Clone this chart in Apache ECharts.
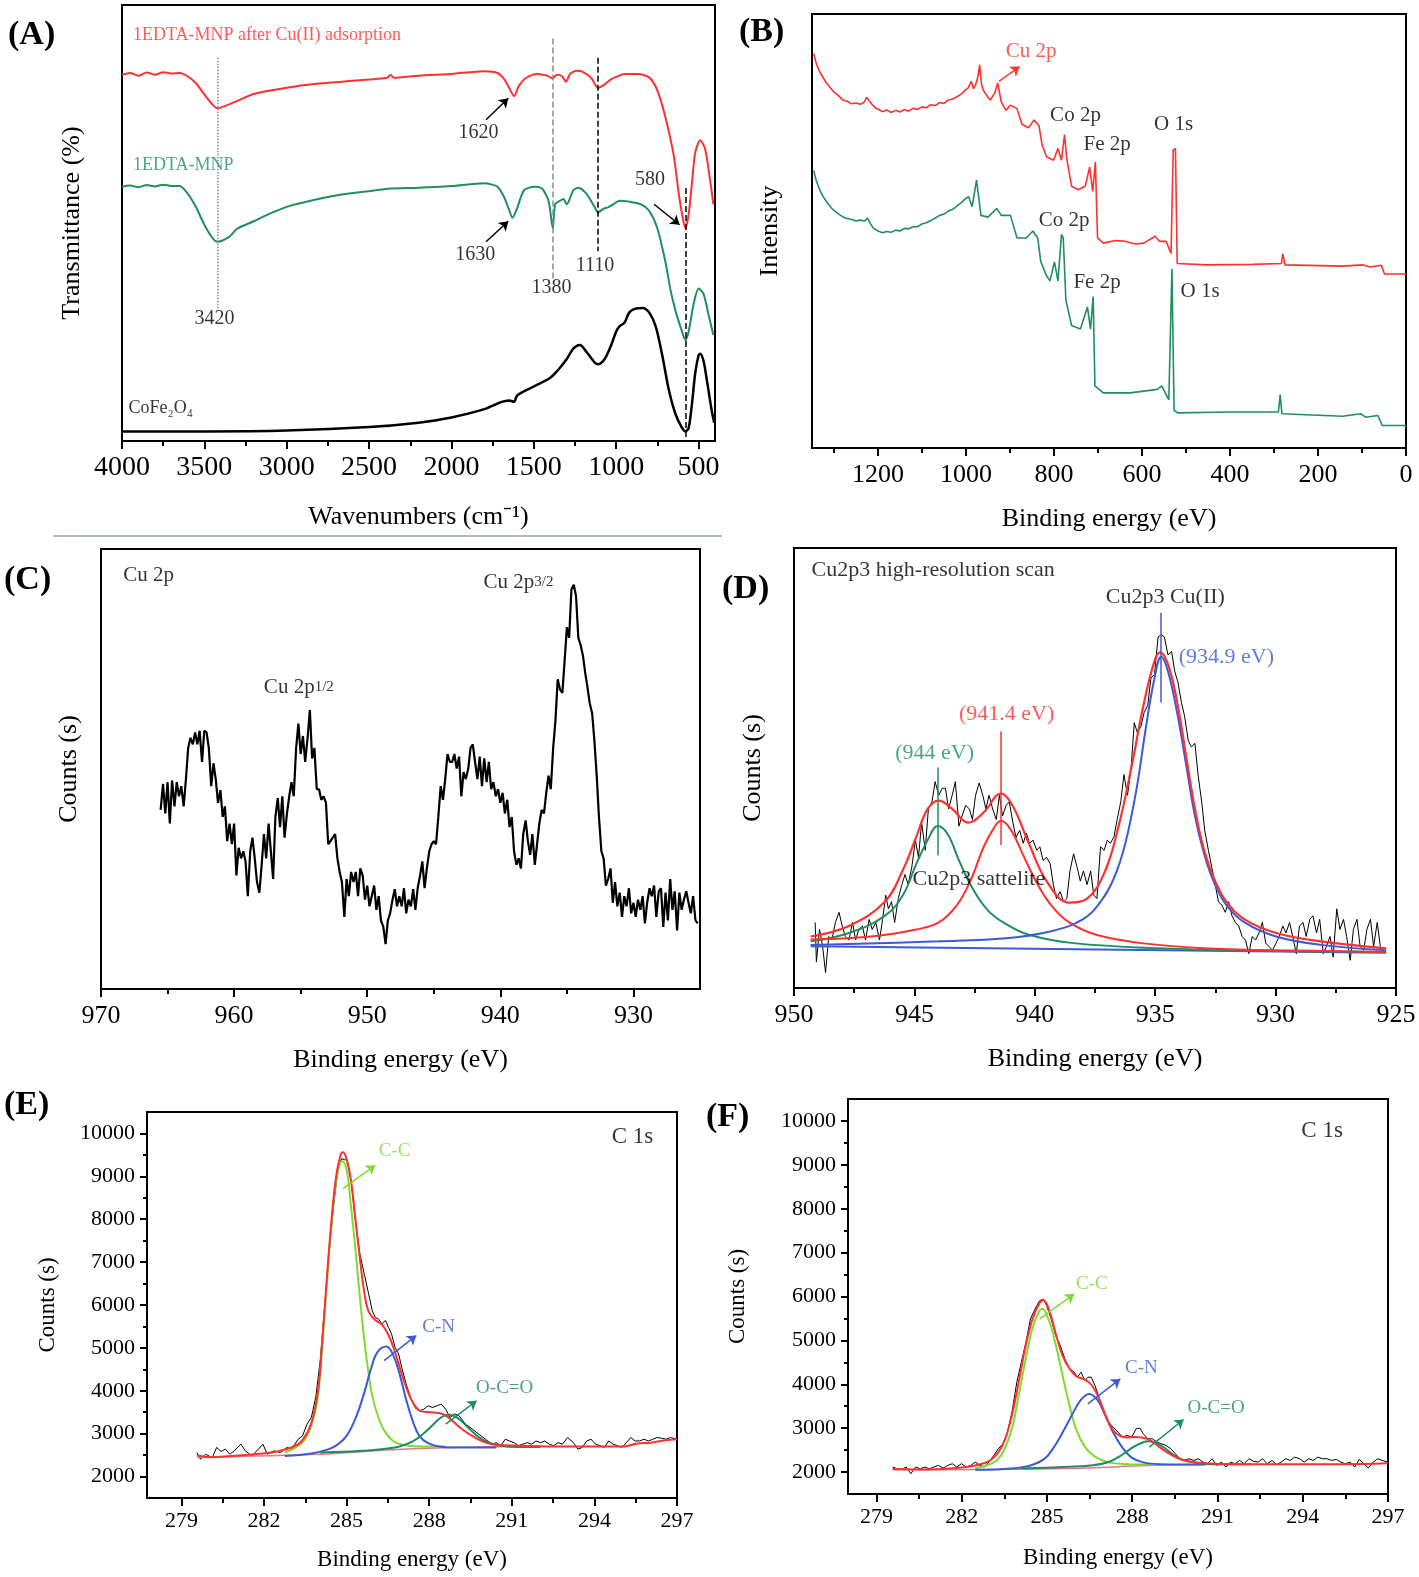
<!DOCTYPE html>
<html><head><meta charset="utf-8">
<script src="https://cdn.jsdelivr.net/npm/echarts@6/dist/echarts.min.js"></script>
<style>html,body{margin:0;padding:0;background:#fff}#c{width:1419px;height:1577px}</style>
</head><body><div id="c"></div>
<script>
const FONT = '"Liberation Serif","Times New Roman",serif';

// ---------- (A) FTIR ----------
const ftirRed = [[4000,84.0],[3950,84.4],[3900,83.8],[3850,84.5],[3800,84.0],[3750,84.6],[3700,84.3],[3650,84.4],[3600,83.6],[3550,82.0],[3480,78.5],[3420,76.3],[3350,77.2],[3300,78.0],[3200,79.6],[3000,81.0],[2900,81.6],[2700,82.3],[2500,82.9],[2390,83.3],[2370,84.0],[2350,83.3],[2200,83.8],[2000,84.2],[1800,84.8],[1720,84.4],[1680,83.0],[1650,81.0],[1620,79.1],[1590,81.5],[1550,83.2],[1480,84.2],[1420,83.8],[1385,83.2],[1360,84.0],[1330,83.7],[1305,82.4],[1280,84.2],[1240,84.9],[1200,84.6],[1150,83.2],[1110,81.0],[1070,81.8],[1030,83.0],[1000,83.5],[950,84.2],[870,84.2],[800,83.4],[750,80.4],[700,74.1],[650,65.4],[620,56.7],[595,51.0],[580,48.8],[560,52.0],[540,59.1],[520,66.2],[490,69.0],[460,67.0],[430,59.9],[410,54.3]];
const ftirGreen = [[4000,58.3],[3950,58.6],[3900,58.2],[3850,58.7],[3800,58.4],[3750,58.8],[3700,58.5],[3650,58.5],[3600,56.7],[3550,53.6],[3500,49.6],[3450,46.5],[3420,45.7],[3350,46.8],[3300,48.7],[3200,50.4],[3100,52.2],[3000,53.7],[2900,54.7],[2700,56.3],[2500,57.3],[2370,57.9],[2200,58.1],[2000,58.5],[1800,59.1],[1720,58.3],[1680,55.9],[1650,53.0],[1630,51.2],[1600,53.5],[1560,57.5],[1500,58.3],[1450,57.9],[1410,55.0],[1385,48.8],[1370,54.3],[1340,55.1],[1320,55.5],[1300,54.3],[1260,57.5],[1230,58.1],[1180,56.7],[1130,53.6],[1110,52.4],[1080,53.2],[1050,53.6],[1020,54.2],[980,55.1],[920,54.9],[850,54.3],[800,52.8],[750,48.8],[700,40.9],[670,34.6],[640,29.9],[600,25.1],[580,23.1],[560,25.1],[530,31.4],[500,35.0],[470,33.8],[440,29.1],[410,24.3]];
const ftirBlack = [[4000,2.2],[3500,2.2],[3000,2.4],[2500,3.2],[2200,4.2],[2000,5.4],[1800,7.3],[1700,8.9],[1650,9.3],[1620,9.0],[1600,10.5],[1500,12.5],[1400,14.5],[1350,16.4],[1300,18.8],[1260,21.2],[1220,22.0],[1180,20.4],[1130,18.0],[1110,17.6],[1070,18.8],[1030,22.0],[1000,25.1],[980,26.3],[950,27.1],[920,29.5],[880,30.4],[840,30.5],[800,29.5],[760,26.3],[720,19.6],[680,11.7],[640,6.2],[600,3.0],[580,2.2],[560,3.0],[540,8.5],[520,15.6],[500,19.6],[490,20.0],[470,18.4],[450,14.1],[420,7.0],[405,4.2]];

// ---------- (B) XPS survey ----------
const surveyRed = [[1346,90.9],[1340,88.5],[1333,86.8],[1326,85.6],[1318,84.2],[1310,83.2],[1300,82.0],[1290,81.2],[1280,80.2],[1270,79.9],[1260,79.3],[1250,79.5],[1240,79.2],[1232,79.6],[1226,80.8],[1220,80.0],[1212,79.0],[1205,78.3],[1198,78.0],[1190,77.5],[1180,77.9],[1170,77.3],[1160,77.8],[1150,77.4],[1140,78.0],[1130,77.6],[1120,78.3],[1110,78.0],[1100,78.6],[1090,78.4],[1080,79.1],[1070,78.9],[1060,79.6],[1050,79.4],[1040,80.2],[1030,80.4],[1020,81.0],[1010,81.6],[1002,82.4],[995,83.0],[988,84.5],[983,82.8],[978,83.8],[973,85.5],[969,88.3],[965,84.0],[961,82.5],[953,81.2],[945,80.2],[935,81.7],[928,84.1],[920,79.8],[909,77.8],[899,79.0],[884,78.2],[873,74.6],[858,73.8],[845,75.6],[834,74.2],[827,69.8],[817,67.1],[801,66.3],[791,69.0],[783,66.3],[776,72.2],[771,66.7],[760,60.3],[745,59.5],[729,60.3],[719,64.7],[712,59.1],[706,65.9],[701,48.4],[688,47.2],[660,47.8],[637,47.6],[615,47.0],[596,47.2],[570,48.8],[560,47.6],[545,47.6],[534,44.8],[529,68.7],[524,69.0],[520,42.5],[452,42.2],[349,42.3],[283,42.5],[280,44.8],[275,42.2],[144,41.9],[98,42.2],[82,41.7],[56,42.1],[49,40.1],[0,40.1]];
const surveyGreen = [[1346,63.9],[1340,61.5],[1333,59.6],[1325,58.0],[1316,56.6],[1306,55.3],[1296,54.4],[1285,53.6],[1275,53.0],[1262,52.7],[1250,52.3],[1240,52.5],[1230,52.3],[1224,53.0],[1218,51.8],[1210,50.6],[1200,50.0],[1190,49.6],[1180,49.9],[1170,49.7],[1160,50.2],[1150,50.0],[1140,50.6],[1130,50.5],[1120,51.0],[1110,51.0],[1100,51.6],[1090,51.9],[1080,52.4],[1070,53.0],[1060,53.6],[1050,53.9],[1040,54.6],[1030,55.0],[1020,55.8],[1010,56.6],[1002,57.4],[994,57.9],[986,55.6],[976,61.7],[966,53.6],[950,53.2],[930,55.2],[920,53.6],[899,53.6],[884,48.4],[863,48.4],[848,50.0],[837,48.4],[830,42.9],[817,39.7],[809,38.5],[799,42.9],[791,38.5],[783,49.2],[779,48.4],[773,34.1],[760,28.2],[740,27.4],[724,32.5],[717,27.4],[711,34.9],[707,14.3],[688,12.7],[627,12.7],[565,13.5],[555,14.3],[539,11.1],[532,41.3],[527,8.7],[519,8.1],[401,8.3],[290,8.3],[286,12.3],[282,7.9],[144,7.3],[103,7.9],[92,7.1],[64,7.5],[54,5.2],[0,5.2]];

// ---------- (C) Cu 2p ----------
const cuBE = [965.52,965.34,965.17,965.00,964.83,964.66,964.48,964.31,964.14,963.97,963.79,963.62,963.45,963.28,963.10,962.93,962.76,962.59,962.41,962.24,962.07,961.90,961.72,961.55,961.38,961.21,961.03,960.86,960.69,
960.52,960.34,960.17,960.00,959.83,959.66,959.48,959.31,959.14,958.97,958.79,958.62,958.45,958.28,958.10,957.93,957.76,957.59,957.41,957.24,957.07,956.90,956.72,956.55,956.38,956.21,956.03,955.86,955.69,
955.52,955.34,955.17,955.00,954.83,954.66,954.48,954.31,954.14,953.97,953.79,953.62,953.45,953.28,953.10,952.93,952.76,952.59,952.41,952.24,952.07,951.90,951.72,951.55,951.38,951.21,951.03,950.86,950.69,
950.52,950.34,950.17,950.00,949.83,949.66,949.48,949.31,949.14,948.97,948.79,948.62,948.45,948.28,948.10,947.93,947.76,947.59,947.41,947.24,947.07,946.90,946.72,946.55,946.38,946.21,946.03,945.86,945.69,
945.52,945.34,945.17,945.00,944.83,944.66,944.48,944.31,944.14,943.97,943.79,943.62,943.45,943.28,943.10,942.93,942.76,942.59,942.41,942.24,942.07,941.90,941.72,941.55,941.38,941.21,941.03,940.86,940.69,
940.52,940.34,940.17,940.00,939.83,939.66,939.48,939.31,939.14,938.97,938.79,938.62,938.45,938.28,938.10,937.93,937.76,937.59,937.41,937.24,937.07,936.90,936.72,936.55,936.38,936.21,936.03,935.86,935.69,
935.52,935.34,935.17,935.00,934.83,934.66,934.48,934.31,934.14,933.97,933.79,933.62,933.45,933.28,933.10,932.93,932.76,932.59,932.41,932.24,932.07,931.90,931.72,931.55,931.38,931.21,931.03,930.86,930.69,
930.52,930.34,930.17,930.00,929.83,929.66,929.48,929.31,929.14,928.97,928.79,928.62,928.45,928.28,928.10,927.93,927.76,927.59,927.41,927.24,927.07,926.90,926.72,926.55,926.38,926.21,926.03,925.86,925.69,
925.52,925.34,925.17];
const cuCounts = [40.7,46.6,39.9,47.0,37.6,47.4,41.5,47.0,43.8,46.1,41.5,47.7,54.8,57.1,55.6,58.3,55.6,58.7,51.6,58.7,58.3,54.8,46.1,51.3,47.7,42.3,45.2,39.1,41.5,
33.6,37.6,32.9,37.6,25.8,32.1,29.7,31.3,29.0,21.1,31.3,34.4,29.7,24.3,21.9,28.2,35.2,29.7,37.6,31.3,25.0,39.1,43.4,36.8,43.8,34.4,39.9,43.8,47.0,
43.8,54.8,60.3,53.4,57.5,51.6,57.1,63.4,52.4,54.8,45.4,45.4,43.0,43.8,42.3,32.9,33.6,34.4,35.2,29.7,26.6,24.3,16.4,25.0,21.1,26.6,24.3,26.6,21.1,
27.4,25.8,20.3,23.5,18.8,21.1,23.5,18.0,21.1,15.6,14.1,10.2,15.6,17.2,20.3,22.7,18.8,21.1,18.8,22.9,17.2,20.3,18.8,22.7,18.0,22.9,25.8,29.0,22.9,
27.4,31.3,32.9,33.6,32.9,39.1,46.1,43.0,47.7,53.4,51.6,51.6,53.4,50.1,52.8,43.8,49.3,47.7,50.1,54.8,55.6,51.6,47.7,52.8,46.1,52.4,47.0,51.6,45.4,
47.0,43.8,45.4,42.3,44.6,39.9,43.0,36.8,39.1,31.3,28.2,29.7,27.4,35.2,38.3,33.6,30.5,35.2,28.2,32.9,37.6,40.7,39.9,44.6,48.5,45.4,54.8,61.0,70.4,
68.1,67.3,74.6,82.2,79.8,90.8,91.9,89.2,79.8,78.2,75.7,71.8,68.5,64.9,62.6,56.3,48.5,39.1,31.3,29.7,23.5,25.0,27.4,19.6,24.3,18.8,21.9,16.4,21.1,
18.8,22.9,17.2,19.6,16.4,20.3,18.0,21.1,14.9,19.6,22.9,21.1,23.5,16.4,22.2,22.9,14.1,21.9,15.6,25.0,18.0,22.2,13.3,21.9,18.0,20.3,22.2,19.6,17.2,
21.1,15.6,14.9];

// ---------- (D) Cu2p3 high resolution ----------
const hrBE = [949.12,949.07,948.94,948.81,948.69,948.56,948.43,948.28,948.13,948.00,947.87,947.72,947.57,947.44,947.31,947.16,947.03,946.88,946.75,946.60,946.45,946.32,946.19,946.08,945.95,945.82,945.67,945.52,945.39,945.26,945.11,944.96,944.83,944.70,944.55,944.42,944.27,944.14,943.99,943.84,943.71,943.58,943.43,943.30,943.15,943.02,942.87,942.72,942.59,942.46,942.31,942.16,942.03,941.90,941.75,941.60,941.47,941.34,941.19,941.06,940.91,940.78,940.63,940.48,940.35,940.22,940.07,939.92,939.79,939.66,939.51,939.36,939.23,939.10,938.95,938.80,938.67,938.54,938.39,938.24,938.11,937.98,937.83,937.68,937.55,937.42,937.27,937.12,936.99,936.86,936.71,936.58,936.43,936.30,936.15,936.00,935.87,935.74,935.59,935.46,935.31,935.18,935.03,934.88,934.75,934.62,934.47,934.32,934.19,934.06,933.91,933.78,933.63,933.50,933.35,933.22,933.07,932.94,932.79,932.65,932.51,932.37,932.23,932.09,931.95,931.81,931.67,931.53,931.39,931.25,931.11,930.97,930.83,930.69,930.55,930.41,930.27,930.13,929.98,929.85,929.70,929.57,929.42,929.29,929.14,929.01,928.86,928.73,928.58,928.45,928.30,928.17,928.02,927.89,927.74,927.61,927.46,927.33,927.18,927.05,926.90,926.77,926.62,926.49,926.34,926.21,926.06,925.93,925.78,925.65];
const hrCounts = [14.9,5.9,13.3,9.4,3.5,11.7,10.9,14.9,17.2,14.1,11.7,10.9,14.9,10.9,13.3,14.1,10.9,15.6,13.3,14.9,10.9,15.6,21.1,18.0,19.6,14.9,20.3,23.5,25.8,23.5,27.4,33.6,29.7,37.6,31.3,40.7,42.3,46.9,43.8,45.4,45.4,40.7,43.8,46.9,36.8,39.1,41.5,40.7,38.3,43.8,46.6,43.8,40.7,43.8,40.7,38.3,43.8,39.1,41.5,42.3,37.6,34.2,35.8,32.9,35.2,32.9,33.6,31.3,32.1,29.0,29.7,28.2,23.5,20.3,21.9,19.6,20.3,26.6,30.5,27.4,24.3,26.6,23.5,26.6,21.1,20.3,32.1,31.3,33.6,32.9,34.4,38.3,42.3,48.5,43.8,50.1,60.3,58.0,59.5,62.6,64.2,70.4,71.2,79.8,80.3,79.8,75.7,76.5,72.0,69.6,64.9,61.8,56.3,54.8,55.6,48.5,42.3,35.7,31.3,27.4,23.5,19.6,18.8,17.2,19.6,16.4,14.9,14.1,11.7,10.9,7.8,11.7,10.9,12.5,14.9,10.2,9.4,8.6,10.2,11.7,14.1,12.5,14.9,11.7,7.8,14.1,14.9,11.7,15.6,16.4,12.5,15.6,7.8,9.4,11.7,7.0,18.0,13.3,15.6,11.7,6.3,13.3,15.6,9.4,8.6,13.3,15.6,9.4,14.9,9.4];
const hrFit944 = [[949.31,10.6],[947.72,12.5],[946.23,16.4],[945.48,21.1],[944.92,28.2],[944.45,33.6],[944.03,36.8],[943.61,34.9],[943.15,29.0],[942.59,22.7],[941.94,17.6],[941.19,14.5],[940.25,12.1],[938.39,10.2],[934.65,9.0],[930.92,8.5],[925.41,8.2]];
const hrFit941 = [[949.31,11.0],[946.79,11.7],[944.92,13.3],[943.99,14.9],[943.24,18.8],[942.68,24.3],[942.12,32.1],[941.65,36.8],[941.41,38.0],[941.00,36.0],[940.44,29.7],[939.88,23.5],[939.32,18.8],[938.57,14.9],[937.45,12.1],[935.59,10.2],[932.79,9.0],[929.05,8.5],[925.41,8.2]];
const hrFit935 = [[949.31,9.8],[943.99,10.6],[941.19,11.3],[939.32,12.9],[938.01,15.6],[937.27,19.6],[936.71,25.0],[936.24,32.9],[935.77,45.4],[935.40,58.7],[935.03,70.4],[934.75,75.3],[934.47,72.0],[934.09,62.6],[933.72,50.9],[933.35,39.1],[932.97,30.5],[932.60,24.6],[932.04,18.8],[931.29,14.9],[929.98,11.7],[928.12,9.8],[925.41,8.6]];
const hrEnvelope = [[949.31,11.7],[947.72,14.1],[946.23,19.6],[945.48,26.8],[944.92,34.4],[944.45,40.7],[943.99,42.6],[943.43,40.7],[942.77,37.6],[942.12,39.9],[941.41,44.2],[940.91,41.3],[940.25,32.9],[939.51,24.3],[938.57,19.4],[937.83,20.3],[937.08,26.6],[936.52,36.8],[935.96,50.9],[935.49,64.2],[935.03,74.3],[934.80,76.3],[934.47,73.6],[934.09,65.0],[933.72,52.8],[933.35,40.7],[932.97,31.3],[932.51,24.3],[932.04,19.6],[931.29,15.6],[929.98,12.5],[928.12,10.6],[925.41,9.0]];
const hrBaseline = [[949.31,9.5],[925.41,8.0]];

// ---------- (E) C 1s ----------
const c1sRawE = [[279.56,2560],[279.69,2405],[279.88,2520],[280.12,2440],[280.28,2680],[280.44,2585],[280.60,2640],[280.76,2520],[280.92,2600],[281.16,2755],[281.32,2600],[281.56,2480],[281.80,2640],[281.96,2755],[282.12,2520],[282.36,2600],[282.60,2560],[282.84,2680],[283.00,2640],[283.24,2870],[283.40,2950],[283.56,3220],[283.72,3380],[283.88,3850],[284.04,4700],[284.20,5950],[284.36,7190],[284.52,8280],[284.68,9140],[284.81,9410],[284.92,9390],[285.03,9370],[285.16,8900],[285.32,7970],[285.48,7190],[285.64,6730],[285.80,6260],[285.93,5870],[286.04,5710],[286.15,5680],[286.28,5560],[286.41,5640],[286.52,5480],[286.63,5330],[286.76,5010],[286.89,4860],[287.00,4550],[287.16,4160],[287.32,3850],[287.48,3610],[287.64,3530],[287.80,3570],[287.96,3650],[288.12,3610],[288.28,3650],[288.44,3690],[288.60,3570],[288.76,3380],[288.92,3460],[289.08,3420],[289.32,3220],[289.56,3110],[289.80,2990],[290.04,2870],[290.28,2755],[290.44,2790],[290.60,2720],[290.76,2870],[290.92,2830],[291.08,2790],[291.24,2720],[291.40,2755],[291.56,2790],[291.72,2755],[291.88,2830],[292.04,2790],[292.20,2830],[292.36,2755],[292.52,2720],[292.68,2790],[292.84,2755],[293.03,2910],[293.24,2790],[293.40,2640],[293.56,2680],[293.72,2830],[293.88,2870],[294.04,2755],[294.20,2720],[294.36,2680],[294.52,2830],[294.68,2755],[294.84,2720],[295.00,2680],[295.16,2790],[295.32,2910],[295.48,2830],[295.64,2830],[295.80,2870],[295.96,2830],[296.12,2870],[296.28,2910],[296.44,2895],[296.60,2870],[296.76,2910],[297.00,2870]];
const c1sEnvE = [[279.56,2500],[280.04,2450],[280.84,2480],[281.64,2520],[282.44,2580],[283.08,2700],[283.40,2850],[283.72,3250],[283.96,4000],[284.12,5200],[284.28,6600],[284.44,7900],[284.60,8900],[284.76,9450],[284.87,9560],[285.00,9400],[285.16,8900],[285.32,8000],[285.48,7100],[285.64,6300],[285.80,5850],[286.04,5650],[286.28,5550],[286.52,5300],[286.76,4900],[287.00,4400],[287.24,3950],[287.48,3650],[287.72,3520],[288.04,3500],[288.36,3480],[288.60,3420],[288.84,3300],[289.16,3120],[289.48,2980],[289.80,2860],[290.12,2780],[290.44,2740],[291.24,2720],[292.84,2700],[295.08,2700],[295.24,2720],[295.56,2770],[296.04,2790],[296.52,2840],[297.00,2870]];
const c1sCCE = [[282.76,2560],[283.40,2800],[283.72,3200],[283.96,3900],[284.12,5100],[284.28,6500],[284.44,7800],[284.60,8800],[284.76,9300],[284.84,9350],[285.00,9150],[285.16,8300],[285.32,7300],[285.48,6200],[285.64,5200],[285.80,4400],[285.96,3800],[286.20,3300],[286.44,3000],[286.76,2800],[287.24,2720],[288.04,2700],[288.60,2700]];
const c1sCNE = [[282.76,2480],[283.72,2540],[284.36,2640],[284.68,2750],[285.00,2950],[285.32,3350],[285.64,3950],[285.88,4500],[286.12,4900],[286.44,5030],[286.68,4850],[286.92,4400],[287.16,3800],[287.40,3300],[287.64,2950],[287.96,2780],[288.36,2700],[288.84,2680],[290.44,2680]];
const c1sOCOE = [[284.04,2560],[285.64,2600],[286.44,2650],[286.92,2700],[287.40,2820],[287.88,3050],[288.20,3250],[288.44,3380],[288.68,3440],[288.92,3410],[289.16,3300],[289.48,3100],[289.80,2920],[290.12,2800],[290.60,2720],[291.24,2690],[292.04,2690]];
const c1sBaseE = [[279.56,2450],[284.04,2520],[286.44,2620],[288.84,2680],[291.24,2700]];

// ---------- (F) C 1s ----------
const c1sRawF = [[279.57,2114],[279.73,2076],[279.89,2061],[280.05,2114],[280.21,1962],[280.38,2114],[280.54,2076],[280.70,2114],[280.86,2076],[281.02,2114],[281.18,2152],[281.35,2091],[281.51,2152],[281.67,2190],[281.83,2114],[281.99,2190],[282.16,2114],[282.32,2152],[282.48,2227],[282.64,2152],[282.80,2114],[282.96,2227],[283.13,2379],[283.29,2531],[283.45,2644],[283.61,2910],[283.77,3365],[283.94,4047],[284.10,4502],[284.26,4957],[284.42,5487],[284.58,5715],[284.74,5904],[284.87,5942],[284.99,5790],[285.15,5487],[285.31,5108],[285.47,4881],[285.63,4578],[285.80,4350],[285.96,4275],[286.07,4161],[286.20,4275],[286.33,4085],[286.44,4161],[286.56,4161],[286.69,3971],[286.85,3668],[287.01,3365],[287.17,3137],[287.33,3024],[287.50,2910],[287.66,2796],[287.82,2834],[287.98,2796],[288.14,2986],[288.27,3001],[288.39,2872],[288.55,2758],[288.71,2758],[288.87,2682],[289.03,2644],[289.19,2607],[289.36,2531],[289.52,2417],[289.68,2303],[289.84,2265],[290.00,2303],[290.17,2265],[290.33,2303],[290.49,2227],[290.65,2190],[290.81,2303],[290.97,2152],[291.14,2227],[291.30,2114],[291.46,2227],[291.62,2190],[291.78,2265],[291.94,2190],[292.11,2303],[292.27,2243],[292.43,2227],[292.59,2303],[292.75,2190],[292.92,2265],[293.08,2167],[293.24,2227],[293.40,2303],[293.56,2265],[293.72,2341],[293.89,2303],[294.05,2227],[294.21,2303],[294.37,2265],[294.53,2341],[294.70,2303],[294.86,2303],[295.02,2265],[295.18,2288],[295.34,2227],[295.50,2190],[295.67,2227],[295.83,2114],[295.99,2288],[296.15,2190],[296.31,2091],[296.48,2227],[296.64,2303],[296.80,2265],[296.99,2227]];
const c1sEnvF = [[279.57,2070],[280.86,2060],[281.83,2090],[282.48,2150],[282.96,2250],[283.29,2450],[283.53,2750],[283.77,3300],[284.02,4100],[284.26,4900],[284.50,5500],[284.74,5850],[284.87,5920],[285.07,5700],[285.31,5150],[285.55,4650],[285.80,4350],[286.04,4180],[286.36,4100],[286.61,3950],[286.85,3650],[287.09,3250],[287.33,2950],[287.58,2820],[287.82,2790],[288.06,2800],[288.30,2790],[288.55,2750],[288.79,2650],[289.11,2500],[289.44,2370],[289.76,2280],[290.25,2220],[290.89,2190],[292.19,2180],[295.43,2180],[296.99,2200]];
const c1sCCF = [[282.48,2090],[283.13,2220],[283.45,2450],[283.77,3000],[284.02,3800],[284.26,4600],[284.50,5300],[284.74,5680],[284.83,5720],[285.07,5450],[285.31,4900],[285.55,4200],[285.80,3500],[286.04,2950],[286.36,2550],[286.69,2350],[287.17,2220],[287.82,2180],[288.63,2170]];
const c1sCNF = [[282.48,2050],[283.77,2080],[284.42,2150],[284.91,2300],[285.23,2550],[285.55,2900],[285.88,3300],[286.20,3650],[286.49,3780],[286.77,3650],[287.01,3350],[287.33,2900],[287.66,2550],[287.98,2330],[288.39,2220],[288.95,2180],[290.57,2170]];
const c1sOCOF = [[284.10,2080],[285.72,2120],[286.52,2150],[287.17,2230],[287.66,2400],[288.06,2580],[288.39,2680],[288.55,2700],[288.79,2680],[289.11,2560],[289.44,2400],[289.76,2280],[290.25,2210],[290.89,2180],[292.19,2180]];
const c1sBaseF = [[279.57,2050],[285.72,2080],[288.95,2160],[291.50,2180]];

// ---------- tick values ----------
const ftirMajor = [4000,3500,3000,2500,2000,1500,1000,500];
const ftirMinor = [3750,3250,2750,2250,1750,1250,750];
const surveyMajor = [1200,1000,800,600,400,200,0];
const surveyMinor = [1300,1100,900,700,500,300,100];
const cuMajor = [970,960,950,940,930];
const cuMinor = [965,955,945,935];
const hrMajor = [950,945,940,935,930,925];
const hrMinor = [947.5,942.5,937.5,932.5,927.5];
const c1sMajor = [279,282,285,288,291,294,297];
const c1sMinor = [280.5,283.5,286.5,289.5,292.5,295.5];
const countMajor = [2000,3000,4000,5000,6000,7000,8000,9000,10000];
const countMinor = [2500,3500,4500,5500,6500,7500,8500,9500];

// ---------- annotations: [text, x, y, color, fontSize, align] ----------
const RED='#ff3030', GRN='#1f8f5f', BLU='#3b5bd6', LGR='#7ddc2e', DGR='#1c8c68';
const ftirNotes = [
 ['1EDTA-MNP after Cu(II) adsorption',3930,92.9,RED,18,'left'],
 ['1EDTA-MNP',3930,63.2,GRN,18,'left'],
 ['CoFe₂O₄',3958,7.4,'#000',18,'left'],
 ['3420',3436,27.9,'#000',20,'center'],
 ['1620',1833,70.5,'#000',20,'center'],
 ['1630',1853,42.7,'#000',20,'center'],
 ['1380',1389,35.1,'#000',20,'center'],
 ['1110',1125,40.1,'#000',20,'center'],
 ['580',792,59.9,'#000',20,'center']
];
const ftirLines = [
 [3420,87.9,3420,30.0,'#7d8c9c','dotted',false],
 [1385,92.3,1385,37.0,'#7d8c9c','dashed',false],
 [1110,87.9,1110,43.5,'#000','dashed',false],
 [580,58.0,580,0,'#000','dashed',false],
 [1790,73.7,1655,78.6,'#000','solid',true],
 [1790,45.7,1655,50.4,'#000','solid',true],
 [770,54.3,615,49.6,'#000','solid',true]
];
const surveyNotes = [
 ['Cu 2p',851,91.3,RED,21,'center'],
 ['Co 2p',750,76.6,'#000',21,'center'],
 ['Fe 2p',678,69.8,'#000',21,'center'],
 ['O 1s',527,74.4,'#000',21,'center'],
 ['Co 2p',776,52.4,'#000',21,'center'],
 ['Fe 2p',701,38.1,'#000',21,'center'],
 ['O 1s',467,35.9,'#000',21,'center']
];
const surveyLines = [[925,84.5,878,87.9,RED,'solid',true]];
const cuNotes = [
 ['Cu 2p',968.3,93.9,'#000',21,'left'],
 ['{a|Cu 2p}{b|3/2}',938.6,92.3,'#000',21,'center'],
 ['{a|Cu 2p}{b|1/2}',955.1,68.5,'#000',21,'center']
];
const hrNotes = [
 ['Cu2p3 high-resolution scan',949.25,94.8,'#000',22,'left'],
 ['Cu2p3 Cu(II)',934.56,88.6,'#000',22,'center'],
 ['(934.9 eV)',934.0,75.1,BLU,22,'left'],
 ['(941.4 eV)',941.15,62.2,RED,22,'center'],
 ['(944 eV)',944.14,53.2,GRN,22,'center'],
 ['Cu2p3 sattelite',942.3,24.6,'#000',22,'center']
];
const hrLines = [
 [934.75,85.3,934.75,64.9,BLU,'solid',false],
 [941.41,58.3,941.41,32.5,RED,'solid',false],
 [944.03,50.1,944.03,30.1,GRN,'solid',false]
];
const eNotes = [
 ['C-C',286.76,9570,LGR,19,'center'],
 ['C-N',288.36,5480,BLU,19,'center'],
 ['O-C=O',290.76,4064,DGR,19,'center'],
 ['C 1s',295.4,9905,'#000',23,'center']
];
const eLines = [
 [284.87,8713,286.04,9259,LGR,'solid',true],
 [286.36,4703,287.53,5287,BLU,'solid',true],
 [288.6,3223,289.72,3768,DGR,'solid',true]
];
const fNotes = [
 ['C-C',286.6,6284,LGR,19,'center'],
 ['C-N',288.34,4365,BLU,19,'center'],
 ['O-C=O',290.97,3456,DGR,19,'center'],
 ['C 1s',294.7,9771,'#000',23,'center']
];
const fLines = [
 [284.74,5488,285.96,6056,LGR,'solid',true],
 [286.44,3554,287.58,4123,BLU,'solid',true],
 [288.6,2569,289.81,3198,DGR,'solid',true]
];

// ---------- layout ----------
const gridBoxes = [
 {left:122, top:5, width:593, height:436},
 {left:812, top:14, width:594, height:434},
 {left:101, top:549, width:599, height:440},
 {left:794, top:548, width:602, height:440},
 {left:147, top:1112, width:530, height:386},
 {left:848, top:1099, width:540, height:395}
];
const grids = gridBoxes.map(g => Object.assign({show:true, borderColor:'#000', borderWidth:2, backgroundColor:'transparent'}, g));

const fmt = v => String(v);
function mainX(gi, min, max, inverse, major, fs, margin, name, nameGap, nameFs){
  return {gridIndex:gi, type:'value', min, max, inverse, position:'bottom',
    axisLine:{show:true, onZero:false, lineStyle:{color:'#000', width:2}},
    axisTick:{show:true, inside:false, length:8, customValues:major, lineStyle:{color:'#000', width:2}},
    axisLabel:{show:true, customValues:major, formatter:fmt, fontSize:fs, fontFamily:FONT, color:'#000', margin},
    splitLine:{show:false},
    name, nameLocation:'middle', nameGap, nameTextStyle:{fontSize:nameFs, fontFamily:FONT, color:'#000'}};
}
// minor-tick overlay: a top axis shifted down onto the bottom edge, ticks pointing outward (down)
function minorX(gi, min, max, inverse, minor){
  return {gridIndex:gi, type:'value', min, max, inverse, position:'top', offset:-gridBoxes[gi].height,
    axisLine:{show:false}, axisLabel:{show:false}, splitLine:{show:false},
    axisTick:{show:true, inside:true, length:5, customValues:minor, lineStyle:{color:'#000', width:2}}};
}
function plainY(gi, name, nameGap){
  return {gridIndex:gi, type:'value', min:0, max:100, position:'left', axisLine:{show:false}, axisTick:{show:false},
    axisLabel:{show:false}, splitLine:{show:false},
    name, nameLocation:'middle', nameGap, nameTextStyle:{fontSize:26, fontFamily:FONT, color:'#000'}};
}
function countY(gi, nameGap){
  return {gridIndex:gi, type:'value', min:1500, max:10500, position:'left',
    axisLine:{show:true, onZero:false, lineStyle:{color:'#000', width:2}},
    axisTick:{show:true, inside:false, length:7, customValues:countMajor, lineStyle:{color:'#000', width:2}},
    axisLabel:{show:true, customValues:countMajor, formatter:fmt, fontSize:22, fontFamily:FONT, color:'#000', margin:12},
    splitLine:{show:false},
    name:'Counts (s)', nameLocation:'middle', nameGap, nameTextStyle:{fontSize:23, fontFamily:FONT, color:'#000'}};
}
// minor-tick overlay: a right axis shifted onto the left edge, ticks pointing outward (left)
function minorY(gi){
  return {gridIndex:gi, type:'value', min:1500, max:10500, position:'right', offset:-gridBoxes[gi].width,
    axisLine:{show:false}, axisLabel:{show:false}, splitLine:{show:false},
    axisTick:{show:true, inside:true, length:4, customValues:countMinor, lineStyle:{color:'#000', width:2}}};
}

const xAxis = [
 mainX(0,400,4000,true,ftirMajor,28,13,'Wavenumbers (cm⁻¹)',63,26),
 mainX(1,0,1350,true,surveyMajor,26,14,'Binding energy (eV)',58,26),
 mainX(2,925,970,true,cuMajor,26,14,'Binding energy (eV)',58,26),
 mainX(3,925,950,true,hrMajor,26,14,'Binding energy (eV)',58,26),
 mainX(4,277.75,297,false,c1sMajor,22,12,'Binding energy (eV)',50,23),
 mainX(5,278,297,false,c1sMajor,22,12,'Binding energy (eV)',52,23),
 minorX(0,400,4000,true,ftirMinor),
 minorX(1,0,1350,true,surveyMinor),
 minorX(2,925,970,true,cuMinor),
 minorX(3,925,950,true,hrMinor),
 minorX(4,277.75,297,false,c1sMinor),
 minorX(5,278,297,false,c1sMinor)
];
const yAxis = [
 plainY(0,'Transmittance (%)',37),
 plainY(1,'Intensity',29),
 plainY(2,'Counts (s)',19),
 plainY(3,'Counts (s)',28),
 countY(4,88),
 countY(5,99),
 minorY(4),
 minorY(5)
];

function line(gi, data, color, width, smooth, z){
  return {type:'line', xAxisIndex:gi, yAxisIndex:gi, data, showSymbol:false, symbol:'none',
    lineStyle:{color, width}, itemStyle:{color}, smooth:smooth||false, z:z||2, silent:true, animation:false};
}
function notes(gi, items, lines){
  return {type:'scatter', xAxisIndex:gi, yAxisIndex:gi, symbolSize:1, silent:true, z:20,
    itemStyle:{color:'rgba(0,0,0,0)'},
    data: items.map(n => ({value:[n[1], n[2]], label:{show:true, formatter:n[0], color:n[3], fontSize:n[4],
      fontFamily:FONT, align:n[5], verticalAlign:'middle', position:[0,0],
      rich:{a:{fontSize:n[4], fontFamily:FONT, color:n[3]}, b:{fontSize:Math.round(n[4]*0.72), fontFamily:FONT, color:n[3]}}}})),
    markLine:{silent:true, animation:false, symbolSize:9, label:{show:false},
      data:(lines||[]).map(l => [
        {coord:[l[0],l[1]], symbol:'none', lineStyle:{color:l[4], type:l[5], width:1.5}},
        {coord:[l[2],l[3]], symbol:l[6]?'arrow':'none', lineStyle:{color:l[4], type:l[5], width:1.5}}
      ])}
  };
}
const pair = (xs, ys) => xs.map((x,i) => [x, ys[i]]);

const series = [
 line(0, ftirRed, RED, 2, 0.25),
 line(0, ftirGreen, GRN, 2, 0.25),
 line(0, ftirBlack, '#000', 2.5, 0.3),
 notes(0, ftirNotes, ftirLines),

 line(1, surveyRed, RED, 1.6, false),
 line(1, surveyGreen, GRN, 1.6, false),
 notes(1, surveyNotes, surveyLines),

 line(2, pair(cuBE, cuCounts), '#000', 2.2, false),
 notes(2, cuNotes, []),

 line(3, pair(hrBE, hrCounts), '#000', 1, false, 2),
 line(3, hrBaseline, BLU, 2, false, 3),
 line(3, hrFit944, GRN, 2, 0.4, 3),
 line(3, hrFit941, RED, 2, 0.4, 3),
 line(3, hrFit935, BLU, 2, 0.4, 3),
 line(3, hrEnvelope, RED, 2.2, 0.4, 4),
 notes(3, hrNotes, hrLines),

 line(4, c1sRawE, '#000', 1, false, 2),
 line(4, c1sBaseE, '#e07888', 1.5, 0.3, 3),
 line(4, c1sCCE, LGR, 2, 0.4, 3),
 line(4, c1sCNE, BLU, 2, 0.4, 3),
 line(4, c1sOCOE, DGR, 2, 0.4, 3),
 line(4, c1sEnvE, RED, 2, 0.4, 4),
 notes(4, eNotes, eLines),

 line(5, c1sRawF, '#000', 1, false, 2),
 line(5, c1sBaseF, '#e07888', 1.5, 0.3, 3),
 line(5, c1sCCF, LGR, 2, 0.4, 3),
 line(5, c1sCNF, BLU, 2, 0.4, 3),
 line(5, c1sOCOF, DGR, 2, 0.4, 3),
 line(5, c1sEnvF, RED, 2, 0.4, 4),
 notes(5, fNotes, fLines)
];

const panelFont = 'bold 34px ' + FONT;
const graphic = [
 {type:'line', shape:{x1:53, y1:536, x2:722, y2:536}, style:{stroke:'#aebbc4', lineWidth:2}, silent:true},
 {type:'text', left:8, top:18, style:{text:'(A)', font:panelFont, fill:'#000'}},
 {type:'text', left:739, top:15, style:{text:'(B)', font:panelFont, fill:'#000'}},
 {type:'text', left:4, top:563, style:{text:'(C)', font:panelFont, fill:'#000'}},
 {type:'text', left:722, top:572, style:{text:'(D)', font:panelFont, fill:'#000'}},
 {type:'text', left:4, top:1088, style:{text:'(E)', font:panelFont, fill:'#000'}},
 {type:'text', left:706, top:1100, style:{text:'(F)', font:panelFont, fill:'#000'}}
];

const chart = echarts.init(document.getElementById('c'), null, {renderer:'canvas', width:1419, height:1577});
chart.setOption({animation:false, backgroundColor:'#fff', grid:grids, xAxis, yAxis, series, graphic});
</script></body></html>
